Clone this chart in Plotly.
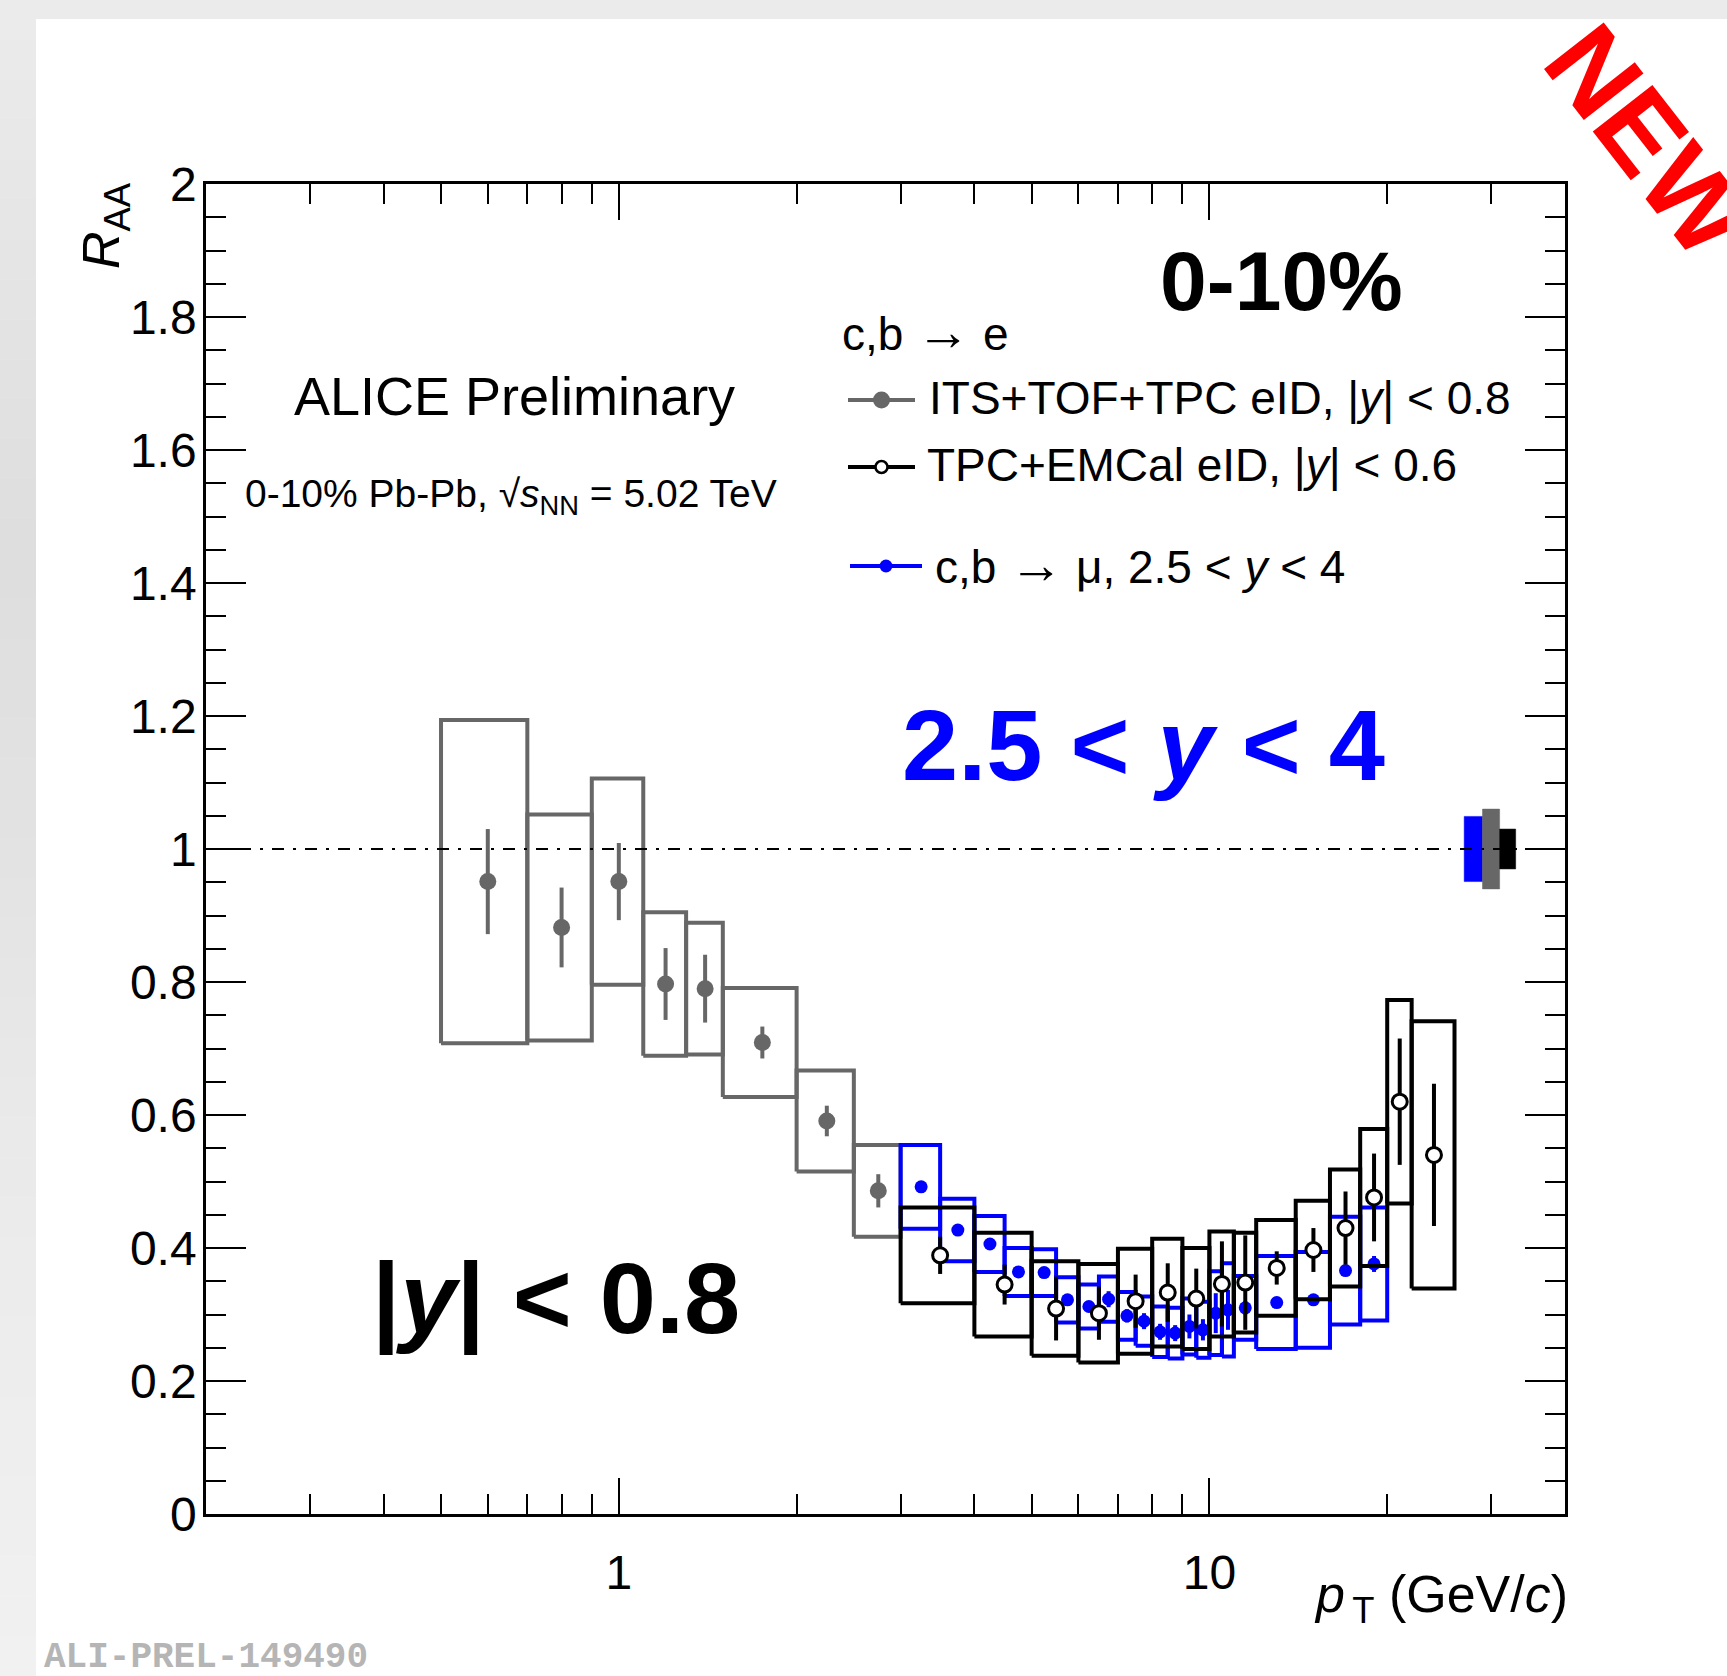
import plotly.graph_objects as go

# ---------------- data ----------------
# c,b -> e, ITS+TOF+TPC eID, |y|<0.8  (grey)
its_pt = [0.6, 0.8, 1.0, 1.2, 1.4, 1.75, 2.25, 2.75]
its_lo = [0.5, 0.7, 0.9, 1.1, 1.3, 1.5, 2.0, 2.5]
its_hi = [0.7, 0.9, 1.1, 1.3, 1.5, 2.0, 2.5, 3.0]
its_raa = [0.951, 0.882, 0.951, 0.797, 0.790, 0.709, 0.591, 0.486]
its_stat = [0.079, 0.060, 0.058, 0.054, 0.051, 0.024, 0.023, 0.025]
its_sys = [0.243, 0.170, 0.155, 0.108, 0.099, 0.082, 0.076, 0.069]

# c,b -> e, TPC+EMCal eID, |y|<0.6  (black, open)
emc_pt = [3.5, 4.5, 5.5, 6.5, 7.5, 8.5, 9.5, 10.5, 11.5, 13, 15, 17, 19, 21, 24]
emc_lo = [3, 4, 5, 6, 7, 8, 9, 10, 11, 12, 14, 16, 18, 20, 22]
emc_hi = [4, 5, 6, 7, 8, 9, 10, 11, 12, 14, 16, 18, 20, 22, 26]
emc_raa = [0.389, 0.345, 0.309, 0.302, 0.320, 0.333, 0.324, 0.346, 0.348, 0.370,
           0.397, 0.430, 0.476, 0.620, 0.540]
emc_stat = [0.028, 0.030, 0.048, 0.040, 0.040, 0.044, 0.045, 0.064, 0.071, 0.025,
            0.033, 0.055, 0.066, 0.095, 0.107]
emc_sys = [0.072, 0.078, 0.071, 0.074, 0.079, 0.081, 0.076, 0.079, 0.075, 0.072,
           0.074, 0.088, 0.103, 0.153, 0.201]

# c,b -> mu, 2.5<y<4  (blue)
mu_pt = [3.25, 3.75, 4.25, 4.75, 5.25, 5.75, 6.25, 6.75, 7.25, 7.75, 8.25, 8.75,
         9.25, 9.75, 10.25, 10.75, 11.5, 13, 15, 17, 19]
mu_lo = [3, 3.5, 4, 4.5, 5, 5.5, 6, 6.5, 7, 7.5, 8, 8.5, 9, 9.5, 10, 10.5, 11, 12, 14, 16, 18]
mu_hi = [3.5, 4, 4.5, 5, 5.5, 6, 6.5, 7, 7.5, 8, 8.5, 9, 9.5, 10, 10.5, 11, 12, 14, 16, 18, 20]
mu_raa = [0.492, 0.427, 0.406, 0.364, 0.363, 0.322, 0.312, 0.323, 0.298, 0.290, 0.274,
          0.272, 0.282, 0.277, 0.302, 0.307, 0.310, 0.318, 0.322, 0.366, 0.376]
mu_stat = [0.004, 0.004, 0.004, 0.004, 0.005, 0.005, 0.008, 0.012, 0.010, 0.012, 0.012,
           0.012, 0.018, 0.016, 0.030, 0.030, 0.010, 0.006, 0.006, 0.008, 0.012]
mu_sys = [0.063, 0.047, 0.042, 0.036, 0.035, 0.034, 0.033, 0.034, 0.036, 0.037, 0.038,
          0.038, 0.042, 0.042, 0.063, 0.070, 0.048, 0.070, 0.072, 0.081, 0.085]

# normalisation uncertainties (boxes at unity): muon, ITS+TOF+TPC, TPC+EMCal
norm_names = ["mu", "its", "emc"]
norm_unc = [0.049, 0.060, 0.030]
norm_lo = [27, 29, 31]
norm_hi = [29, 31, 33]

y_ticks = [0, 0.2, 0.4, 0.6, 0.8, 1.0, 1.2, 1.4, 1.6, 1.8, 2.0]
y_ticktext = ["0", "0.2", "0.4", "0.6", "0.8", "1", "1.2", "1.4", "1.6", "1.8", "2"]
x_ticks = [1, 10]
x_ticktext = ["1", "10"]
x_minor = [0.3, 0.4, 0.5, 0.6, 0.7, 0.8, 0.9, 2, 3, 4, 5, 6, 7, 8, 9, 20, 30]

# ---------------- geometry ----------------
W, H = 1727, 1676
L, R, T, B = 206, 1565, 184, 1514
FONT = "Liberation Sans, Arial, Helvetica, sans-serif"
GREY = "#676767"
BLUE = "#0000ff"
ARROW = "<span style='font-size:54px'>\u2192</span>"


def px(xp):
    return (xp - L) / (R - L)


def py(yp):
    return (B - yp) / (B - T)


def box_path(lo, hi, y, s):
    xs, ys = [], []
    for a, b, v, e in zip(lo, hi, y, s):
        xs += [a, b, b, a, a, None]
        ys += [v - e, v - e, v + e, v + e, v - e, None]
    return xs, ys


fig = go.Figure()

# normalisation boxes
for nm, u, a, b, col in zip(norm_names, norm_unc, norm_lo, norm_hi, [BLUE, GREY, "#000000"]):
    fig.add_trace(go.Scatter(x=[a, b, b, a, a], y=[1 - u, 1 - u, 1 + u, 1 + u, 1 - u],
                             mode="lines", fill="toself", fillcolor=col,
                             line=dict(color=col, width=0.5), hoverinfo="skip"))

# grey series
bx, by = box_path(its_lo, its_hi, its_raa, its_sys)
fig.add_trace(go.Scatter(x=bx, y=by, mode="lines", line=dict(color=GREY, width=4),
                         hoverinfo="skip"))
fig.add_trace(go.Scatter(x=its_pt, y=its_raa, mode="markers",
                         marker=dict(symbol="circle", size=17, color=GREY),
                         error_y=dict(type="data", array=its_stat, thickness=4, width=0,
                                      color=GREY)))

# blue series
bx, by = box_path(mu_lo, mu_hi, mu_raa, mu_sys)
fig.add_trace(go.Scatter(x=bx, y=by, mode="lines", line=dict(color=BLUE, width=4),
                         hoverinfo="skip"))
fig.add_trace(go.Scatter(x=mu_pt, y=mu_raa, mode="markers",
                         marker=dict(symbol="circle", size=13, color=BLUE),
                         error_y=dict(type="data", array=mu_stat, thickness=4, width=0,
                                      color=BLUE)))

# black series
bx, by = box_path(emc_lo, emc_hi, emc_raa, emc_sys)
fig.add_trace(go.Scatter(x=bx, y=by, mode="lines", line=dict(color="black", width=4),
                         hoverinfo="skip"))
fig.add_trace(go.Scatter(x=emc_pt, y=emc_raa, mode="markers",
                         marker=dict(symbol="circle", size=15, color="white",
                                     line=dict(color="black", width=3)),
                         error_y=dict(type="data", array=emc_stat, thickness=4, width=0,
                                      color="black")))

shapes = []
# page background: top band and a soft vertical gradient on the left strip
shapes.append(dict(type="rect", xref="paper", yref="paper", x0=px(0), x1=px(W),
                   y0=py(19), y1=py(0), fillcolor="#ebebeb", line=dict(width=0),
                   layer="below"))
anchors = [(0, 235), (550, 222), (800, 226), (1200, 235), (1676, 241)]
nb = 42
for i in range(nb):
    a = H * i / nb
    b = H * (i + 1) / nb
    m = (a + b) / 2
    for (y0a, c0), (y1a, c1) in zip(anchors[:-1], anchors[1:]):
        if y0a <= m <= y1a:
            g = round(c0 + (c1 - c0) * (m - y0a) / (y1a - y0a))
            break
    shapes.append(dict(type="rect", xref="paper", yref="paper", x0=px(0), x1=px(36),
                       y0=py(b + 0.5), y1=py(a), fillcolor=f"rgb({g},{g},{g})",
                       line=dict(width=0), layer="below"))

# unity dash-dot line
shapes.append(dict(type="line", xref="paper", yref="y", x0=0, x1=1, y0=1, y1=1,
                   line=dict(color="black", width=2, dash="12px,9px,3px,9px")))

# legend lines + markers
leg = [(848, 915, 400, GREY, 17, GREY, None),
       (848, 915, 467, "black", 12, "white", "black"),
       (850, 922, 566, BLUE, 13, BLUE, None)]
for x0, x1, yy, col, ms, fill, edge in leg:
    shapes.append(dict(type="line", xref="paper", yref="paper", x0=px(x0), x1=px(x1),
                       y0=py(yy), y1=py(yy), line=dict(color=col, width=4)))
    cx = (x0 + x1) / 2
    r = ms / 2
    shapes.append(dict(type="circle", xref="paper", yref="paper",
                       xsizemode="pixel", ysizemode="pixel",
                       xanchor=px(cx), yanchor=py(yy), x0=-r, x1=r, y0=-r, y1=r,
                       fillcolor=fill,
                       line=dict(color=edge if edge else col, width=2.5 if edge else 0)))

ann = []


def text(s, xp, yp, size, color="black", xanchor="left", angle=0, family=FONT):
    ann.append(dict(text=s, xref="paper", yref="paper", x=px(xp), y=py(yp),
                    xanchor=xanchor, yanchor="middle", showarrow=False,
                    textangle=angle, font=dict(family=family, size=size, color=color)))


text(f"c,b {ARROW} e", 840, 331, 46)
text("ITS+TOF+TPC eID, |<i>y</i>| &lt; 0.8", 927, 398, 46)
text("TPC+EMCal eID, |<i>y</i>| &lt; 0.6", 925, 465, 46)
text(f"c,b {ARROW} \u03bc, 2.5 &lt; <i>y</i> &lt; 4", 933, 564, 46)
text("ALICE Preliminary", 514, 396, 54, xanchor="center")
text("0-10% Pb-Pb, \u221a<i>s</i><sub>NN</sub> = 5.02 TeV", 243, 496, 39)
text("<b>0-10%</b>", 1281, 281, 84, xanchor="center")
text("<b>2.5 &lt; <i>y</i> &lt; 4</b>", 1143, 745, 101, color=BLUE, xanchor="center")
text("<b>|<i>y</i>| &lt; 0.8</b>", 556, 1299, 101, xanchor="center")
text("<i>p</i><sub>\u2009T</sub> (GeV/<i>c</i>)", 1570, 1598, 52, xanchor="right")
text("<i>R</i><sub>AA</sub>", 105, 226, 52, xanchor="center", angle=-90)
text("<b>ALI-PREL-149490</b>", 42, 1657, 36, color="#b5b5b5",
     family="Liberation Mono, Courier New, monospace")
text("<b>NEW</b>", 1649, 140, 110, color="#ff0000", xanchor="center", angle=52)

fig.update_layout(
    width=W, height=H,
    margin=dict(l=L, r=W - R, t=T, b=H - B, pad=0),
    paper_bgcolor="white", plot_bgcolor="white",
    showlegend=False,
    shapes=shapes, annotations=ann,
    font=dict(family=FONT, color="black"),
)
fig.update_xaxes(type="log", range=[-0.69897, 1.60206], showgrid=False, zeroline=False,
                 showline=True, linecolor="black", linewidth=2.5, mirror="ticks",
                 ticks="inside", ticklen=36, tickwidth=2, tickcolor="black",
                 tickmode="array", tickvals=x_ticks, ticktext=x_ticktext,
                 tickfont=dict(size=48, family=FONT), ticklabelstandoff=15,
                 minor=dict(ticks="inside", ticklen=20, tickwidth=2, tickcolor="black",
                            tickmode="array", tickvals=x_minor, showgrid=False))
fig.update_yaxes(range=[0, 2], showgrid=False, zeroline=False,
                 showline=True, linecolor="black", linewidth=2.5, mirror="ticks",
                 ticks="inside", ticklen=40, tickwidth=2, tickcolor="black",
                 tickmode="array", tickvals=y_ticks, ticktext=y_ticktext,
                 tickfont=dict(size=48, family=FONT), ticklabelstandoff=-3,
                 minor=dict(ticks="inside", ticklen=20, tickwidth=2, tickcolor="black",
                            dtick=0.05, tick0=0, showgrid=False))

fig.write_html("out.html")
